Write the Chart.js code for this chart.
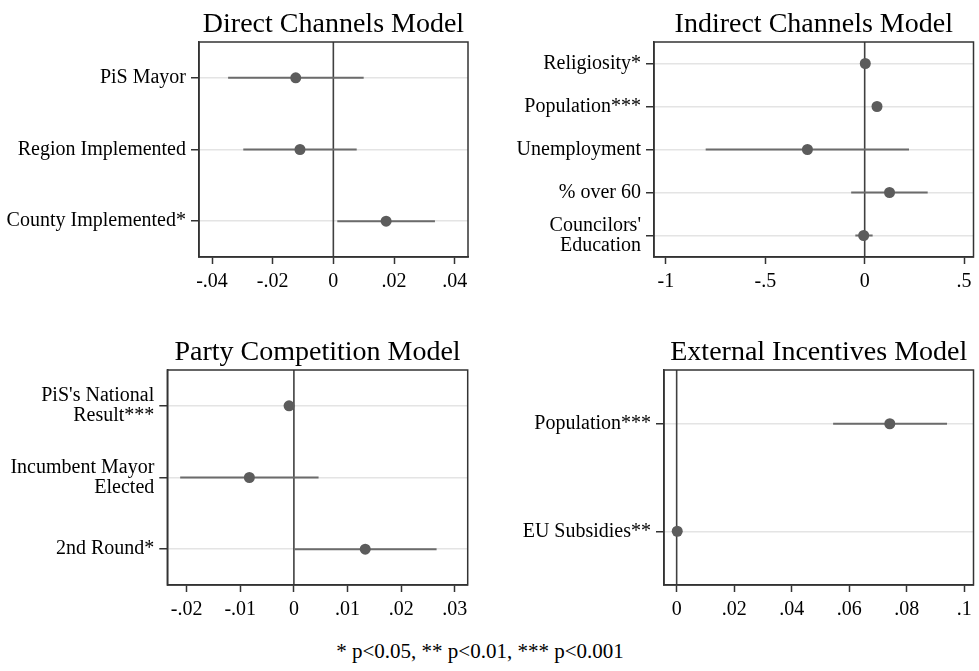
<!DOCTYPE html>
<html>
<head>
<meta charset="utf-8">
<script src="https://cdn.jsdelivr.net/npm/chart.js@4.4.1/dist/chart.umd.min.js"></script>
<style>
  body { margin: 0; background: #fff; width: 979px; height: 671px; position: relative; overflow: hidden; }
  canvas { position: absolute; }
  #note { position: absolute; left: 0; top: 641px; width: 960px; text-align: center;
          font: 21px/21px "Liberation Serif", "Times New Roman", serif; color: #000; }
</style>
</head>
<body>
<canvas id="direct" width="490" height="310" style="left:0;top:0"></canvas>
<canvas id="indirect" width="489" height="310" style="left:490px;top:0"></canvas>
<canvas id="party" width="490" height="300" style="left:0;top:330px"></canvas>
<canvas id="external" width="489" height="300" style="left:490px;top:330px"></canvas>
<div id="note">* p&lt;0.05, ** p&lt;0.01, *** p&lt;0.001</div>
<script>
// coefficient estimates and 95% intervals
var directLabels = ['PiS Mayor', 'Region Implemented', 'County Implemented*'];
var directEst = [-0.0124, -0.0110, 0.0174];
var directLo = [-0.0347, -0.0297, 0.0013];
var directHi = [0.0100, 0.0077, 0.0335];
var directTicks = [-0.04, -0.02, 0, 0.02, 0.04];
var directTickLabels = ['-.04', '-.02', '0', '.02', '.04'];

var indirectLabels = ['Religiosity*', 'Population***', 'Unemployment', '% over 60', ["Councilors'", 'Education']];
var indirectEst = [0.003, 0.062, -0.288, 0.125, -0.005];
var indirectLo = [0.0005, 0.055, -0.80, -0.068, -0.047];
var indirectHi = [0.0055, 0.069, 0.223, 0.317, 0.040];
var indirectTicks = [-1, -0.5, 0, 0.5];
var indirectTickLabels = ['-1', '-.5', '0', '.5'];

var partyLabels = [["PiS's National", 'Result***'], ['Incumbent Mayor', 'Elected'], '2nd Round*'];
var partyEst = [-0.0009, -0.0083, 0.0133];
var partyLo = [-0.0011, -0.0212, 0.0001];
var partyHi = [-0.0007, 0.0046, 0.0266];
var partyTicks = [-0.02, -0.01, 0, 0.01, 0.02, 0.03];
var partyTickLabels = ['-.02', '-.01', '0', '.01', '.02', '.03'];

var externalLabels = ['Population***', 'EU Subsidies**'];
var externalEst = [0.0741, 0.0002];
var externalLo = [0.0544, 0.0001];
var externalHi = [0.0940, 0.0003];
var externalTicks = [0, 0.02, 0.04, 0.06, 0.08, 0.1];
var externalTickLabels = ['0', '.02', '.04', '.06', '.08', '.1'];

Chart.defaults.font.family = '"Liberation Serif", "Times New Roman", serif';
Chart.defaults.font.size = 20;
Chart.defaults.color = '#000';

var framePlugin = {
    id: 'frame',
    afterDraw: function (chart, args, opts) {
        var a = chart.chartArea, ctx = chart.ctx;
        ctx.save();
        ctx.strokeStyle = '#333';
        ctx.lineWidth = 1.5;
        ctx.strokeRect(a.left, a.top, a.right - a.left, a.bottom - a.top);
        ctx.fillStyle = '#000';
        ctx.font = '28px "Liberation Serif", "Times New Roman", serif';
        ctx.textAlign = 'center';
        ctx.textBaseline = 'alphabetic';
        ctx.fillText(opts.text, (a.left + a.right) / 2, a.top - 10);
        ctx.restore();
    }
};

function makePanel(id, title, labels, est, lo, hi, ticks, tickLabels, box) {
    var n = labels.length;
    var datasets = [];

    datasets.push({
        data: est.map(function (v, i) { return {x: v, y: i + 1}; }),
        pointRadius: 5.5,
        pointBackgroundColor: '#5c5c5c',
        pointBorderWidth: 0,
        order: 1
    });
    for (var i = 0; i < n; i++) {
        datasets.push({
            data: [{x: lo[i], y: i + 1}, {x: hi[i], y: i + 1}],
            showLine: true,
            borderColor: '#6b6b6b',
            borderWidth: 2,
            pointRadius: 0,
            order: 2
        });
    }
    datasets.push({
        data: [{x: 0, y: 0.5}, {x: 0, y: n + 0.5}],
        showLine: true,
        borderColor: '#404040',
        borderWidth: 1.6,
        pointRadius: 0,
        order: 3
    });

    var canvas = document.getElementById(id);
    return new Chart(canvas, {
        type: 'scatter',
        data: {datasets: datasets},
        plugins: [framePlugin],
        options: {
            responsive: false,
            animation: false,
            devicePixelRatio: 1,
            layout: {
                padding: {left: 0, top: box.top, right: canvas.width - box.right, bottom: 0}
            },
            plugins: {
                legend: {display: false},
                tooltip: {enabled: false},
                frame: {text: title}
            },
            scales: {
                x: {
                    type: 'linear',
                    min: box.xmin,
                    max: box.xmax,
                    afterBuildTicks: function (scale) {
                        scale.ticks = ticks.map(function (v) { return {value: v}; });
                    },
                    afterFit: function (scale) { scale.height = canvas.height - box.bottom; },
                    ticks: {
                        padding: 6,
                        maxRotation: 0,
                        autoSkip: false,
                        callback: function (v, idx) { return tickLabels[idx]; }
                    },
                    grid: {drawOnChartArea: false, tickColor: '#333', tickLength: 7, tickWidth: 1.5},
                    border: {color: '#333', width: 1.5}
                },
                y: {
                    type: 'linear',
                    reverse: true,
                    min: 0.5,
                    max: n + 0.5,
                    afterBuildTicks: function (scale) {
                        scale.ticks = labels.map(function (l, k) { return {value: k + 1}; });
                    },
                    afterFit: function (scale) { scale.width = box.left; },
                    ticks: {
                        padding: 5,
                        autoSkip: false,
                        font: {lineHeight: 1.0},
                        callback: function (v, idx) { return labels[idx]; }
                    },
                    grid: {color: '#e4e4e4', lineWidth: 1.5, tickColor: '#333', tickLength: 8, tickWidth: 1.5},
                    border: {color: '#333', width: 1.5}
                }
            }
        }
    });
}

makePanel('direct', 'Direct Channels Model', directLabels, directEst, directLo, directHi,
    directTicks, directTickLabels, {left: 199, right: 468, top: 42, bottom: 257, xmin: -0.0443, xmax: 0.0444});
makePanel('indirect', 'Indirect Channels Model', indirectLabels, indirectEst, indirectLo, indirectHi,
    indirectTicks, indirectTickLabels, {left: 164, right: 485.5, top: 42, bottom: 257, xmin: -1.06, xmax: 0.5475});
makePanel('party', 'Party Competition Model', partyLabels, partyEst, partyLo, partyHi,
    partyTicks, partyTickLabels, {left: 167.3, right: 467.7, top: 40, bottom: 255, xmin: -0.0236, xmax: 0.0324});
makePanel('external', 'External Incentives Model', externalLabels, externalEst, externalLo, externalHi,
    externalTicks, externalTickLabels, {left: 174, right: 486, top: 40, bottom: 255, xmin: -0.0044, xmax: 0.1032});
</script>
</body>
</html>
